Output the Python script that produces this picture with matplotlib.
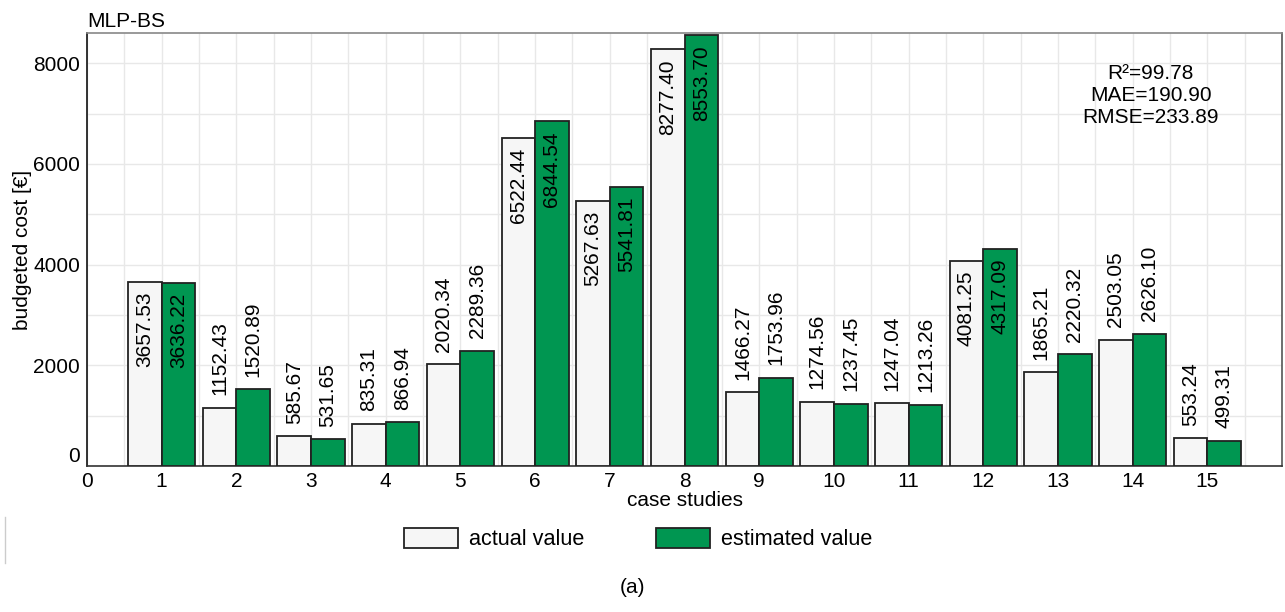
import numpy as np
import matplotlib
matplotlib.use("Agg")
import matplotlib.pyplot as plt
from matplotlib.lines import Line2D

plt.rcParams["font.family"] = ["Liberation Sans", "DejaVu Sans"]

cases = np.arange(1, 16)
actual = [3657.53, 1152.43, 585.67, 835.31, 2020.34, 6522.44, 5267.63, 8277.40,
          1466.27, 1274.56, 1247.04, 4081.25, 1865.21, 2503.05, 553.24]
estimated = [3636.22, 1520.89, 531.65, 866.94, 2289.36, 6844.54, 5541.81, 8553.70,
             1753.96, 1237.45, 1213.26, 4317.09, 2220.32, 2626.10, 499.31]
stats_text = "R\u00b2=99.78\nMAE=190.90\nRMSE=233.89"

fs = 15

fig = plt.figure(figsize=(12.85, 6.12), dpi=100)
ax = fig.add_axes([0.0677, 0.2386, 0.93, 0.7074])

w = 0.45
b1 = ax.bar(cases - w / 2, actual, w, color="#f6f6f6", edgecolor="#222222",
            linewidth=1.3, label="actual value", zorder=3)
b2 = ax.bar(cases + w / 2, estimated, w, color="#009651", edgecolor="#222222",
            linewidth=1.3, label="estimated value", zorder=3)

for bars, vals in [(b1, actual), (b2, estimated)]:
    for rect, v in zip(bars, vals):
        xc = rect.get_x() + rect.get_width() / 2
        if v > 3000:
            ax.annotate(f"{v:.2f}", (xc, v), xytext=(0, -7), textcoords="offset points",
                        rotation=90, ha="center", va="top", fontsize=fs, zorder=4)
        else:
            ax.annotate(f"{v:.2f}", (xc, v), xytext=(0, 9), textcoords="offset points",
                        rotation=90, ha="center", va="bottom", fontsize=fs, zorder=4)

ax.set_xlim(0, 16)
ax.set_ylim(0, 8600)
ax.set_xticks(np.arange(0, 16))
ax.set_xticks(np.arange(0, 16, 0.5), minor=True)
ax.set_yticks(np.arange(0, 8001, 2000))
ax.set_yticks(np.arange(0, 8600, 1000), minor=True)
ax.grid(which="both", color="#e8e8e8", linewidth=1, zorder=0)
ax.set_axisbelow(True)
ax.tick_params(which="both", length=0, labelsize=fs)
ax.tick_params(axis="x", pad=4)
ax.tick_params(axis="y", pad=5)
for lab in ax.get_yticklabels():
    if lab.get_text() == "0":
        lab.set_verticalalignment("bottom")

ax.spines["left"].set_color("#111111")
ax.spines["bottom"].set_color("#333333")
ax.spines["top"].set_color("#888888")
ax.spines["right"].set_color("#555555")
for s in ax.spines.values():
    s.set_linewidth(1.2)

ax.set_xlabel("case studies", fontsize=fs, labelpad=0)
ax.set_ylabel("budgeted cost [\u20ac]", fontsize=fs, labelpad=1)
ax.set_title("MLP-BS", loc="left", fontsize=fs, pad=4)

ax.text(0.89, 0.928, stats_text, transform=ax.transAxes, ha="center", va="top",
        fontsize=fs, linespacing=1.2)

fig.legend(handles=[b1, b2], loc="center", bbox_to_anchor=(0.4965, 0.119), ncol=2,
           frameon=False, fontsize=15.6, handlelength=2.5, handleheight=1.05,
           columnspacing=3.3, handletextpad=0.5)

fig.text(0.492, 0.04, "(a)", ha="center", va="center", fontsize=fs)
fig.add_artist(Line2D([0.004, 0.004], [0.08, 0.155], color="#cccccc", linewidth=1))

fig.savefig("out.png", dpi=100)
